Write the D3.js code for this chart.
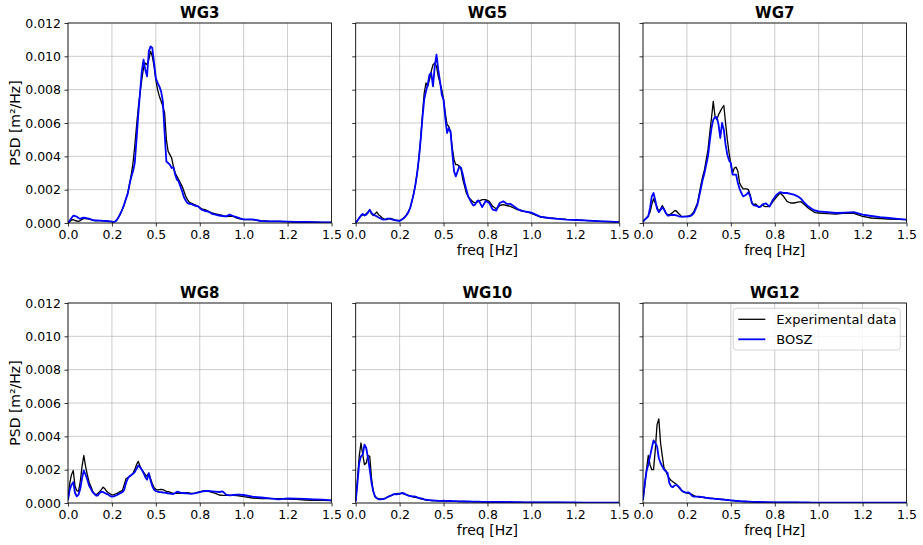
<!DOCTYPE html>
<html><head><meta charset="utf-8">
<script src="https://cdn.jsdelivr.net/npm/d3@7"></script>
<style>body{margin:0;background:#fff}svg{display:block}text{font-family:"DejaVu Sans",sans-serif}</style>
</head><body><svg id="c" width="923" height="545"></svg>
<script>
// frequency grid [Hz]
const freq = [
0.00,0.01,0.02,0.03,0.04,0.05,0.06,0.07,0.08,0.09,
0.10,0.11,0.12,0.13,0.14,0.15,0.16,0.17,0.18,0.19,
0.20,0.21,0.22,0.23,0.24,0.25,0.26,0.27,0.28,0.29,
0.30,0.31,0.32,0.33,0.34,0.35,0.36,0.37,0.38,0.39,
0.40,0.41,0.42,0.43,0.44,0.45,0.46,0.47,0.48,0.49,
0.50,0.51,0.52,0.53,0.54,0.55,0.56,0.57,0.58,0.59,
0.60,0.61,0.62,0.63,0.64,0.65,0.66,0.67,0.68,0.69,
0.70,
0.72,0.74,0.76,0.78,0.80,0.82,0.84,0.86,0.88,0.90,0.92,0.94,0.96,0.98,1.00,
1.05,1.10,1.15,1.20,1.25,1.30,1.35,1.40,1.45,1.50];

// PSD values in units of 1e-3 m²/Hz
const wg3Exp = [
0,0.08,0.18,0.2,0.15,0.12,0.1,0.14,0.22,0.28,
0.27,0.25,0.24,0.2,0.17,0.15,0.14,0.14,0.14,0.13,
0.13,0.12,0.12,0.11,0.1,0.08,0.06,0.1,0.2,0.38,
0.58,0.82,1.1,1.45,1.8,2.3,2.9,3.6,4.6,5.8,
6.9,7.8,8.6,9.3,9.6,9.5,9.8,10.3,10.0,9.4,
8.6,8.0,7.6,7.3,7.0,6.6,5.0,4.3,4.1,3.9,
3.4,3.0,2.8,2.6,2.4,2.2,1.9,1.6,1.4,1.25,
1.2,
1.1,1.0,0.85,0.8,0.7,0.6,0.55,0.5,0.45,0.38,0.42,0.4,0.3,0.25,0.2,
0.2,0.12,0.1,0.1,0.08,0.06,0.06,0.05,0.04,0.03];
const wg3Bosz = [
0,0.15,0.3,0.44,0.42,0.38,0.3,0.25,0.3,0.32,
0.3,0.28,0.26,0.22,0.18,0.16,0.15,0.15,0.14,0.14,
0.13,0.13,0.12,0.1,0.1,0.08,0.06,0.1,0.22,0.4,
0.6,0.84,1.12,1.45,1.75,2.3,2.75,3.1,3.6,5.0,
6.5,7.8,9.1,9.8,9.2,8.8,10.3,10.6,10.5,9.6,
8.7,8.4,8.2,7.9,7.3,5.4,3.7,3.6,3.5,3.3,
3.35,2.9,2.6,2.5,2.2,1.9,1.55,1.35,1.2,1.15,
1.15,
1.05,1.0,0.8,0.72,0.68,0.55,0.5,0.45,0.42,0.4,0.5,0.42,0.35,0.28,0.22,
0.22,0.12,0.1,0.1,0.08,0.06,0.06,0.05,0.04,0.03];

const wg5Exp = [
0,0.15,0.3,0.42,0.5,0.48,0.55,0.66,0.76,0.55,
0.44,0.55,0.66,0.5,0.42,0.32,0.25,0.2,0.22,0.26,
0.28,0.24,0.2,0.17,0.16,0.14,0.2,0.28,0.38,0.5,
0.68,0.92,1.3,1.75,2.3,3.0,3.9,5.1,6.5,7.8,
8.4,8.2,8.6,9.1,9.5,9.6,9.4,8.8,8.4,8.0,
7.4,6.6,5.9,5.8,5.4,4.5,3.8,3.5,3.5,3.4,
3.2,2.6,2.2,1.8,1.6,1.45,1.35,1.25,1.2,1.25,
1.3,
1.4,1.4,1.3,1.0,0.85,1.05,1.1,1.05,1.0,0.9,0.8,0.75,0.7,0.65,0.58,
0.36,0.3,0.26,0.22,0.2,0.16,0.13,0.1,0.08,0.05];
const wg5Bosz = [
0,0.15,0.3,0.45,0.55,0.45,0.5,0.62,0.8,0.6,
0.5,0.45,0.4,0.33,0.28,0.22,0.2,0.22,0.26,0.26,
0.24,0.2,0.18,0.15,0.14,0.12,0.18,0.25,0.35,0.48,
0.65,0.9,1.3,1.75,2.3,3.0,3.9,5.0,6.3,7.4,
7.9,8.3,8.9,9.0,8.2,9.4,10.1,9.2,8.5,7.7,
7.4,6.3,5.4,5.7,5.5,4.2,3.1,2.8,3.1,3.4,
3.3,2.9,2.4,2.0,1.6,1.4,1.2,1.05,1.1,1.3,
1.36,
0.95,1.32,1.2,0.8,0.75,1.2,1.3,1.15,1.15,1.0,0.85,0.75,0.7,0.66,0.62,
0.38,0.3,0.25,0.2,0.18,0.16,0.13,0.1,0.08,0.05];

const wg7Exp = [
0.08,0.2,0.3,0.45,0.65,1.1,1.45,1.2,0.95,0.7,
0.85,1.05,0.85,0.6,0.5,0.5,0.55,0.65,0.74,0.72,
0.6,0.5,0.38,0.38,0.4,0.4,0.42,0.45,0.55,0.7,
0.95,1.2,1.75,2.3,2.8,3.2,3.8,4.4,5.4,6.3,
7.3,6.4,6.2,6.5,6.7,6.9,7.05,6.0,5.0,4.2,
3.5,3.0,3.3,3.35,3.1,2.4,2.2,2.05,2.05,2.05,
2.0,1.7,1.2,1.08,1.15,1.05,0.95,1.02,1.08,1.0,
0.98,
1.0,1.3,1.55,1.8,1.6,1.3,1.2,1.2,1.25,1.28,1.1,0.9,0.75,0.62,0.6,
0.56,0.54,0.6,0.58,0.4,0.3,0.27,0.24,0.22,0.2];
const wg7Bosz = [
0.08,0.2,0.3,0.4,0.9,1.6,1.8,1.35,0.85,0.65,
0.8,0.95,0.8,0.6,0.45,0.45,0.48,0.48,0.48,0.46,
0.42,0.38,0.38,0.38,0.38,0.38,0.4,0.42,0.48,0.6,
0.85,1.1,1.6,2.1,2.6,3.0,3.5,4.0,4.9,5.7,
6.2,6.35,6.35,5.9,5.1,6.0,5.6,4.7,4.1,3.75,
3.6,2.9,2.9,2.9,2.4,2.05,1.8,1.6,1.65,1.72,
1.85,1.6,1.2,1.06,1.04,1.02,0.95,0.98,1.1,1.15,
1.18,
0.98,1.4,1.7,1.85,1.8,1.8,1.75,1.7,1.6,1.45,1.2,1.0,0.85,0.75,0.7,
0.65,0.6,0.62,0.65,0.5,0.42,0.35,0.3,0.25,0.2];

const wg8Exp = [
0.18,1.2,1.7,1.95,1.0,0.75,0.7,1.3,2.2,2.85,
2.2,1.7,1.25,1.0,0.72,0.55,0.5,0.58,0.68,0.8,
0.95,0.85,0.7,0.62,0.55,0.48,0.5,0.54,0.58,0.64,
0.7,0.76,1.1,1.45,1.52,1.58,1.65,1.8,2.0,2.3,
2.5,2.2,2.0,1.85,1.7,1.6,1.8,1.45,1.15,0.92,
0.82,0.78,0.8,0.82,0.8,0.75,0.7,0.68,0.65,0.6,
0.58,0.58,0.58,0.58,0.58,0.58,0.6,0.6,0.62,0.6,
0.58,
0.58,0.65,0.7,0.74,0.7,0.64,0.58,0.48,0.46,0.46,0.46,0.46,0.44,0.42,0.38,
0.3,0.26,0.26,0.26,0.24,0.22,0.18,0.16,0.16,0.15];
const wg8Bosz = [
0.18,0.8,1.1,1.25,0.6,0.4,0.5,0.85,1.5,1.95,
1.7,1.4,1.05,0.85,0.65,0.55,0.45,0.45,0.6,0.68,
0.65,0.6,0.55,0.5,0.42,0.38,0.4,0.44,0.48,0.55,
0.6,0.65,0.8,1.2,1.45,1.6,1.68,1.75,1.85,2.05,
2.25,2.15,2.0,1.8,1.55,1.4,1.78,1.35,1.0,0.8,
0.72,0.68,0.66,0.65,0.63,0.62,0.6,0.58,0.56,0.55,
0.54,0.6,0.68,0.66,0.62,0.6,0.6,0.58,0.58,0.56,
0.55,
0.58,0.62,0.68,0.72,0.72,0.7,0.68,0.66,0.7,0.5,0.46,0.48,0.5,0.5,0.48,
0.38,0.33,0.28,0.22,0.28,0.26,0.25,0.22,0.2,0.16];

const wg10Exp = [
0.14,1.4,2.8,3.6,2.9,2.3,2.4,2.85,2.8,1.5,
0.7,0.4,0.3,0.26,0.24,0.22,0.26,0.3,0.36,0.4,
0.44,0.48,0.52,0.55,0.58,0.56,0.6,0.56,0.52,0.5,
0.46,0.42,0.38,0.36,0.34,0.32,0.28,0.25,0.23,0.2,
0.18,0.17,0.16,0.15,0.14,0.14,0.13,0.13,0.13,0.12,
0.12,0.12,0.12,0.11,0.11,0.1,0.1,0.1,0.1,0.09,
0.09,0.09,0.09,0.08,0.08,0.08,0.08,0.07,0.07,0.07,
0.07,
0.07,0.06,0.06,0.06,0.05,0.05,0.05,0.05,0.05,0.04,0.04,0.04,0.04,0.03,0.03,
0.03,0.03,0.03,0.02,0.02,0.02,0.02,0.02,0.02,0.02];
const wg10Bosz = [
0.08,1.2,2.4,2.8,2.9,3.5,3.3,2.7,2.0,1.2,
0.7,0.38,0.28,0.22,0.22,0.23,0.24,0.28,0.34,0.4,
0.44,0.5,0.54,0.52,0.54,0.55,0.58,0.6,0.55,0.48,
0.44,0.42,0.4,0.4,0.38,0.34,0.3,0.28,0.26,0.22,
0.2,0.18,0.17,0.16,0.15,0.14,0.14,0.13,0.13,0.13,
0.14,0.13,0.12,0.12,0.12,0.11,0.11,0.11,0.1,0.1,
0.1,0.1,0.09,0.09,0.09,0.09,0.08,0.08,0.08,0.08,
0.08,
0.07,0.07,0.07,0.06,0.06,0.06,0.06,0.05,0.06,0.05,0.05,0.05,0.04,0.04,0.04,
0.04,0.03,0.03,0.03,0.03,0.02,0.02,0.02,0.02,0.02];

const wg12Exp = [
0.18,1.0,2.0,2.85,2.3,2.0,2.0,3.2,4.7,5.05,
3.6,2.8,2.1,1.95,1.65,1.48,1.35,1.28,1.2,1.12,
1.0,0.85,0.75,0.66,0.62,0.6,0.58,0.55,0.5,0.44,
0.4,0.38,0.36,0.34,0.34,0.33,0.31,0.3,0.29,0.28,
0.28,0.26,0.25,0.24,0.23,0.22,0.21,0.2,0.18,0.17,
0.15,0.14,0.13,0.12,0.11,0.1,0.1,0.09,0.09,0.08,
0.08,0.07,0.07,0.06,0.06,0.06,0.05,0.05,0.05,0.05,
0.04,
0.04,0.04,0.04,0.03,0.03,0.03,0.03,0.03,0.03,0.02,0.02,0.02,0.02,0.02,0.02,
0.02,0.02,0.02,0.02,0.02,0.02,0.02,0.02,0.02,0.02];
const wg12Bosz = [
0.18,1.2,1.9,2.3,2.8,3.3,3.75,3.6,3.4,2.7,
2.4,2.2,2.0,1.9,1.8,1.2,1.0,0.95,1.05,1.08,
1.0,0.9,0.75,0.68,0.64,0.62,0.64,0.55,0.42,0.38,
0.38,0.38,0.38,0.37,0.35,0.33,0.31,0.3,0.28,0.27,
0.26,0.25,0.24,0.23,0.22,0.21,0.2,0.19,0.18,0.17,
0.16,0.15,0.14,0.13,0.12,0.11,0.1,0.1,0.09,0.09,
0.08,0.08,0.07,0.07,0.07,0.06,0.06,0.06,0.05,0.05,
0.05,
0.05,0.04,0.04,0.04,0.04,0.03,0.03,0.03,0.03,0.03,0.03,0.03,0.02,0.02,0.02,
0.02,0.02,0.02,0.02,0.02,0.02,0.02,0.02,0.02,0.02];

const panelNames = ["WG3","WG5","WG7","WG8","WG10","WG12"];
const expSeries = [wg3Exp, wg5Exp, wg7Exp, wg8Exp, wg10Exp, wg12Exp];
const boszSeries = [wg3Bosz, wg5Bosz, wg7Bosz, wg8Bosz, wg10Bosz, wg12Bosz];
const seriesNames = ["Experimental data", "BOSZ"];
const seriesColors = ["#000000", "#0000ff"];
const xTickValues = [0, 0.25, 0.5, 0.75, 1.0, 1.25, 1.5];
const xTickLabels = ["0.0","0.2","0.5","0.8","1.0","1.2","1.5"];
const yTickValues = [0, 2, 4, 6, 8, 10, 12];
const yTickLabels = ["0.000","0.002","0.004","0.006","0.008","0.010","0.012"];
const xLabel = "freq [Hz]";
const yLabel = "PSD [m²/Hz]";

const svg = d3.select("#c");
const W = 263.5, H = 200;
const lefts = [68, 355.7, 643];
const tops = [23, 303];
const lineWidths = [1.3, 1.8];

panelNames.forEach((name, i) => {
  const col = i % 3, row = Math.floor(i / 3);
  const g = svg.append("g").attr("transform", `translate(${lefts[col]},${tops[row]})`);
  const x = d3.scaleLinear().domain([0, 1.5]).range([0, W]);
  const y = d3.scaleLinear().domain([0, 12]).range([H, 0]);

  // grid
  g.append("g").selectAll("line").data(xTickValues).join("line")
    .attr("x1", d => x(d)).attr("x2", d => x(d)).attr("y1", 0).attr("y2", H)
    .attr("stroke", "#b0b0b0").attr("stroke-width", 0.8).attr("opacity", 0.8);
  g.append("g").selectAll("line").data(yTickValues).join("line")
    .attr("y1", d => y(d)).attr("y2", d => y(d)).attr("x1", 0).attr("x2", W)
    .attr("stroke", "#b0b0b0").attr("stroke-width", 0.8).attr("opacity", 0.8);

  const clipId = "clip" + i;
  g.append("clipPath").attr("id", clipId).append("rect").attr("x", 0).attr("y", 0).attr("width", W).attr("height", H);

  const line = d3.line().x((d, k) => x(freq[k])).y(d => y(d));
  [expSeries[i], boszSeries[i]].forEach((s, k) => {
    g.append("path").datum(s).attr("d", line)
      .attr("fill", "none").attr("stroke", seriesColors[k])
      .attr("stroke-width", lineWidths[k])
      .attr("stroke-linejoin", "round")
      .attr("clip-path", `url(#${clipId})`);
  });

  // axes
  const xa = g.append("g").attr("transform", `translate(0,${H})`)
    .call(d3.axisBottom(x).tickValues(xTickValues).tickFormat((d, k) => xTickLabels[k]).tickSize(3.5).tickPadding(3.5));
  const ya = g.append("g")
    .call(d3.axisLeft(y).tickValues(yTickValues).tickFormat((d, k) => col === 0 ? yTickLabels[k] : "").tickSize(3.5).tickPadding(3.5));
  [xa, ya].forEach(a => {
    a.select(".domain").remove();
    a.selectAll("line").attr("stroke", "#000").attr("stroke-width", 0.8);
    a.selectAll("text").attr("font-size", "12.5px").attr("fill", "#000").attr("font-family", "DejaVu Sans");
  });
  g.append("rect").attr("width", W).attr("height", H).attr("fill", "none")
    .attr("stroke", "#000").attr("stroke-width", 0.8);

  g.append("text").attr("x", W / 2).attr("y", -5).attr("text-anchor", "middle")
    .attr("font-size", "15px").attr("font-weight", "bold").text(name);

  if (col > 0) {
    g.append("text").attr("x", W / 2).attr("y", H + 32).attr("text-anchor", "middle")
      .attr("font-size", "14px").text(xLabel);
  } else {
    g.append("text").attr("transform", `translate(-48,${H / 2}) rotate(-90)`)
      .attr("text-anchor", "middle").attr("font-size", "14px").text(yLabel);
  }

  if (i === 5) {
    const lg = g.append("g").attr("transform", `translate(${733.3 - lefts[2]},${308.3 - tops[1]})`);
    lg.append("rect").attr("width", 167).attr("height", 41.7).attr("rx", 3)
      .attr("fill", "#fff").attr("fill-opacity", 0.8).attr("stroke", "#cccccc").attr("stroke-width", 0.8);
    seriesNames.forEach((nm, k) => {
      const yy = 11 + k * 20;
      lg.append("line").attr("x1", 5).attr("x2", 32).attr("y1", yy).attr("y2", yy)
        .attr("stroke", seriesColors[k]).attr("stroke-width", lineWidths[k]);
      lg.append("text").attr("x", 43).attr("y", yy).attr("dy", "0.35em")
        .attr("font-size", "13px").text(nm);
    });
  }
});
</script></body></html>
